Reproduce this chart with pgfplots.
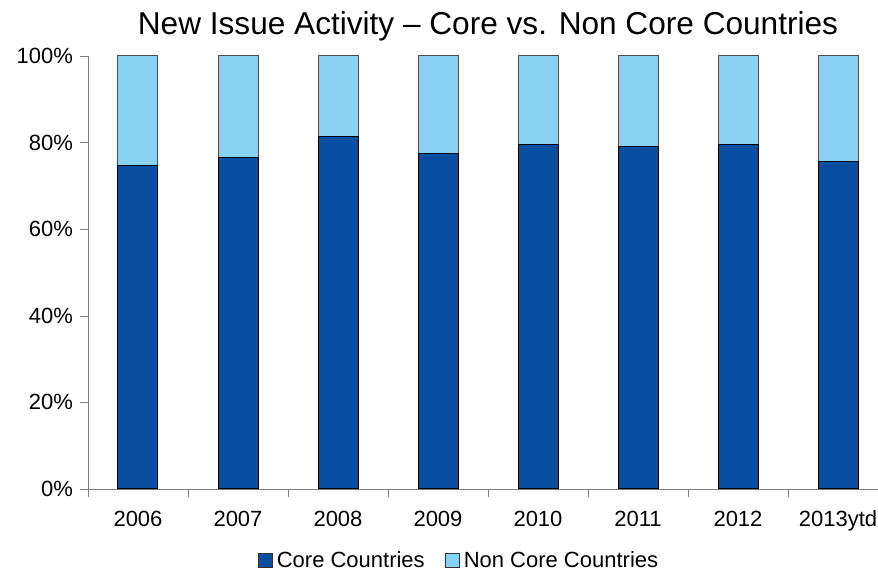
\documentclass[border=0pt]{standalone}
\usepackage{pgfplots}
\pgfplotsset{compat=1.18}
\usepackage{fontspec}
\setmainfont{Liberation Sans}
\definecolor{coreblue}{HTML}{0A4EA2}
\definecolor{noncoreblue}{HTML}{89D1F2}
\definecolor{axisgray}{HTML}{7F7F7F}

\begin{document}
\begin{tikzpicture}
\begin{axis}[
  name=ax,
  scale only axis,
  width=400pt, height=216.5pt,
  ybar stacked,
  bar width=20pt,
  xmin=-0.5, xmax=7.5,
  ymin=0, ymax=100,
  axis lines=left,
  axis line style={axisgray, -},
  xtick={0,...,7},
  xticklabels={2006,2007,2008,2009,2010,2011,2012,2013ytd},
  major x tick style={draw=none},
  minor xtick={-0.5,0.5,...,6.5},
  minor x tick style={axisgray},
  minor tick length=4pt,
  ytick={0,20,...,100},
  yticklabel={\pgfmathprintnumber{\tick}\%},
  y tick style={axisgray},
  major tick length=4pt,
  tick align=outside,
  /pgf/number format/assume math mode=true,
  ticklabel style={font=\fontsize{11}{13}\selectfont},
  xticklabel style={anchor=base, yshift=-15pt},
  title={New Issue Activity -- Core vs. Non Core Countries},
  title style={font=\fontsize{15.8}{19}\selectfont, at={(0.5,1)}, anchor=base, yshift=4.5pt},
  legend style={at={(0.465,-0.166)}, anchor=center, draw=none,
    legend columns=-1, font=\fontsize{11}{13}\selectfont,
    /tikz/every even column/.append style={column sep=8pt}},
  legend image code/.code={\draw[#1, draw=black!80] (0pt,-3.5pt) rectangle (7pt,3.5pt);},
]
\addplot[fill=coreblue, draw=black, line width=0.5pt] coordinates
  {(0,74.8) (1,76.5) (2,81.4) (3,77.4) (4,79.6) (5,79.0) (6,79.6) (7,75.7)};
\addplot[fill=noncoreblue, draw=black!70, line width=0.5pt] coordinates
  {(0,25.2) (1,23.5) (2,18.6) (3,22.6) (4,20.4) (5,21.0) (6,20.4) (7,24.3)};
\legend{Core Countries, Non Core Countries}
\coordinate (sw) at (rel axis cs:0,0);
\coordinate (ne) at (rel axis cs:1,1);
\end{axis}
\pgfresetboundingbox
\path ([xshift=-44pt,yshift=-40.5pt]sw) rectangle ([xshift=-5pt,yshift=28pt]ne);
\end{tikzpicture}
\end{document}
